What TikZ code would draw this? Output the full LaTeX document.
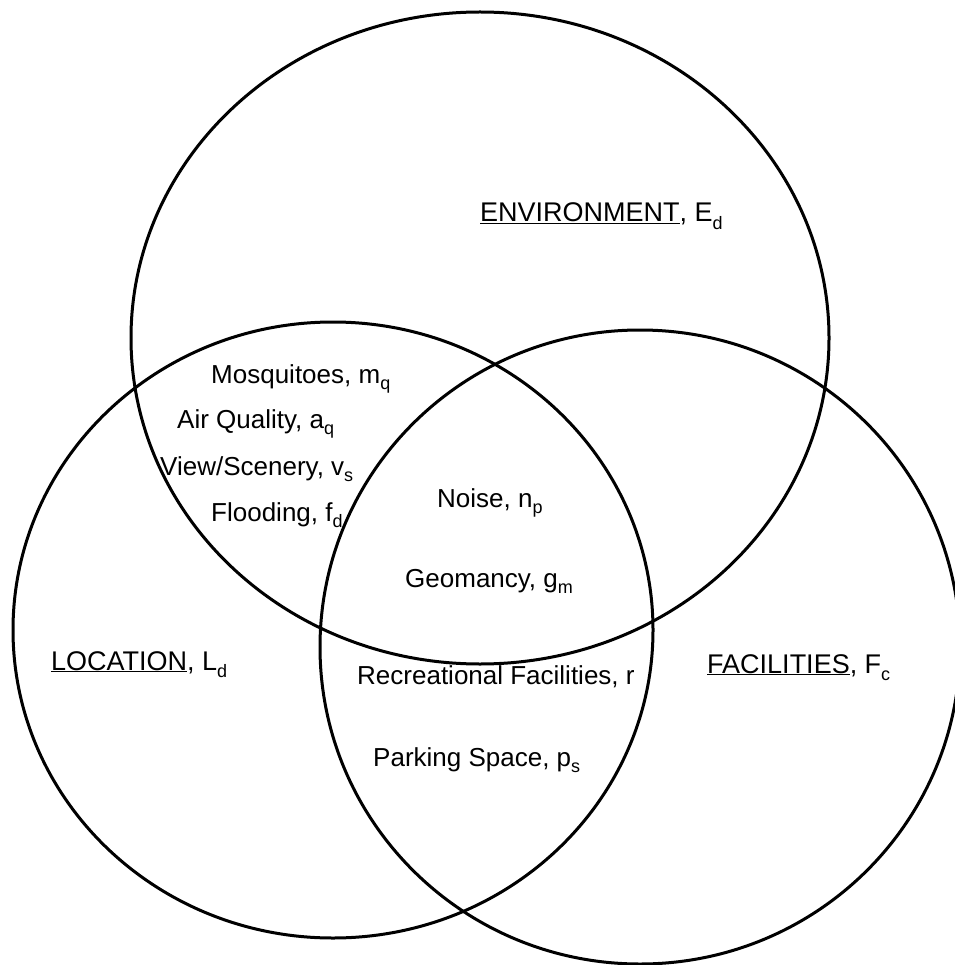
\documentclass[tikz,border=0pt]{standalone}
\usepackage{fontspec}
\setmainfont{Liberation Sans}
\usetikzlibrary{shapes.geometric}
\newcommand{\lowidx}[1]{\raisebox{-0.5ex}{\fontsize{18}{18}\selectfont #1}}
\tikzset{
  venn/.style={ellipse, draw=black, line width=3pt, inner sep=0pt, outer sep=0pt},
  item/.style={anchor=base west, inner sep=0pt, font=\fontsize{26}{30}\selectfont},
  title/.style={anchor=base west, inner sep=0pt, font=\fontsize{27}{32}\selectfont}
}
\begin{document}
\begin{tikzpicture}[x=1pt,y=-1pt]
\useasboundingbox (0,0) rectangle (954,965);
\node[venn, minimum width=698pt, minimum height=652pt] (env) at (480,338) {};
\node[venn, minimum width=640pt, minimum height=616pt] (loc) at (333,630) {};
\node[venn, minimum width=640pt, minimum height=634pt] (fac) at (640,647) {};

\node[title] (tenv) at (480,222) {\underline{ENVIRONMENT}, E\lowidx{d}};
\node[title] (tloc) at (51,670) {\underline{LOCATION}, L\lowidx{d}};
\node[title] (tfac) at (707,673) {\underline{FACILITIES}, F\lowidx{c}};

\node[item] (mq) at (211,383) {Mosquitoes, m\lowidx{q}};
\node[item] (aq) at (177,428) {Air Quality, a\lowidx{q}};
\node[item] (vs) at (160,475) {View/Scenery, v\lowidx{s}};
\node[item] (fd) at (211,521) {Flooding, f\lowidx{d}};
\node[item] (np) at (437,507) {Noise, n\lowidx{p}};
\node[item] (gm) at (405,587) {Geomancy, g\lowidx{m}};
\node[item] (rf) at (357,684) {Recreational Facilities, r};
\node[item] (ps) at (373,766) {Parking Space, p\lowidx{s}};
\end{tikzpicture}
\end{document}
